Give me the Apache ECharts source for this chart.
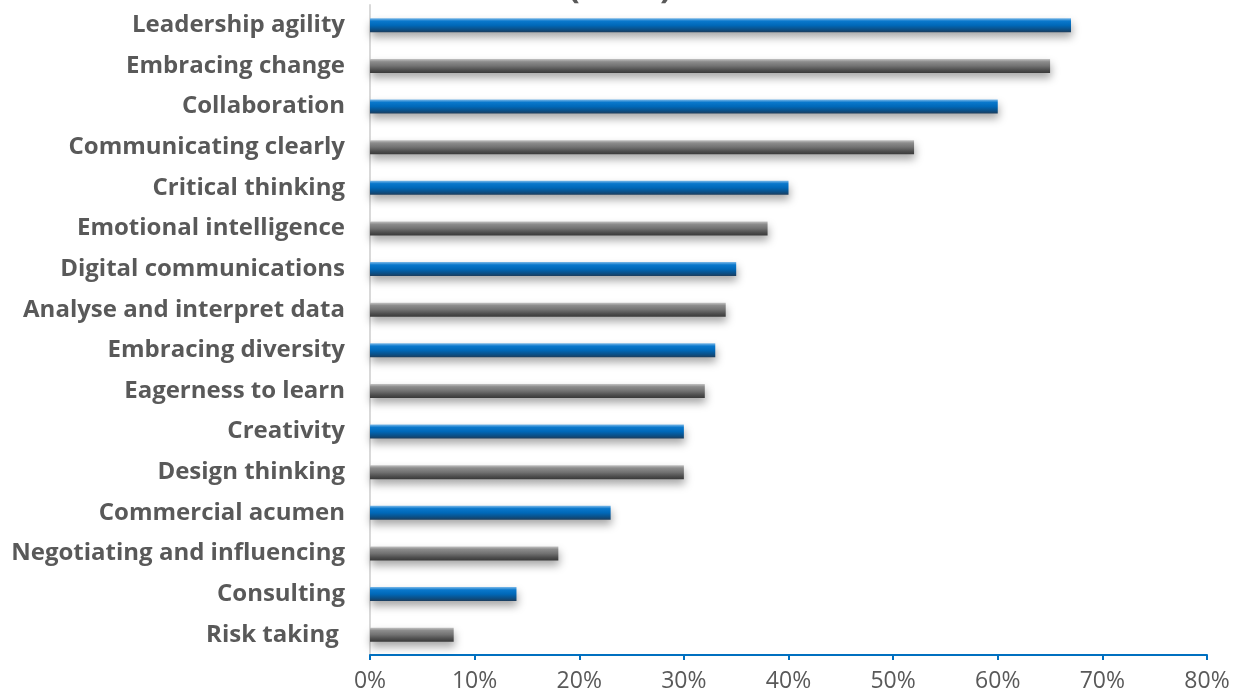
<!DOCTYPE html>
<html>
<head>
<meta charset="utf-8">
<script src="https://cdn.jsdelivr.net/npm/echarts@6/dist/echarts.min.js"></script>
<style>html,body{margin:0;padding:0;background:#fff;}#c{width:1238px;height:700px;}</style>
</head>
<body>
<div id="c"></div>
<script>
var categories = ["Leadership agility","Embracing change","Collaboration","Communicating clearly","Critical thinking","Emotional intelligence","Digital communications","Analyse and interpret data","Embracing diversity","Eagerness to learn","Creativity","Design thinking","Commercial acumen","Negotiating and influencing","Consulting","Risk taking "];
var values = [0.67,0.65,0.60,0.52,0.40,0.38,0.35,0.34,0.33,0.32,0.30,0.30,0.23,0.18,0.14,0.08];
var barColors = ["blue","gray","blue","gray","blue","gray","blue","gray","blue","gray","blue","gray","blue","gray","blue","gray"];
var titleText = "(2020)";

var FONT = "'Open Sans', sans-serif";
var palettes = {
  blue: ["#7ab8e8","#0a78cc","#0068b8","#0b4f86","#1d3d5c"],
  gray: ["#c4c4c4","#8c8c8c","#727272","#4d4d4d","#3a3a3a"]
};
function grad(p){
  return new echarts.graphic.LinearGradient(0,0,0,1,[
    {offset:0,color:p[0]},{offset:0.2,color:p[1]},{offset:0.5,color:p[2]},{offset:0.8,color:p[3]},{offset:1,color:p[4]}
  ]);
}
var data = values.map(function(v,i){
  return {value:v,itemStyle:{color:grad(palettes[barColors[i]])}};
});

var chart = echarts.init(document.getElementById('c'));
chart.setOption({
  backgroundColor:'#fff',
  animation:false,
  graphic:[{type:'text',x:620,y:6,style:{text:titleText,align:'center',verticalAlign:'bottom',fill:'#595959',fontSize:35,fontWeight:'bold',fontFamily:FONT}}],
  grid:{left:370,right:31,top:5,bottom:45,containLabel:false},
  xAxis:{type:'value',min:0,max:0.8,interval:0.1,
    axisLine:{show:true,lineStyle:{color:'#0070c0',width:2}},
    axisTick:{show:true,length:5,lineStyle:{color:'#0070c0',width:2}},
    splitLine:{show:false},
    axisLabel:{margin:15,color:'#595959',fontSize:23,fontFamily:FONT,formatter:function(v){return Math.round(v*100)+'%';}}
  },
  yAxis:{type:'category',data:categories,inverse:true,
    axisLine:{show:true,lineStyle:{color:'#d9d9d9',width:2}},
    axisTick:{show:false},
    axisLabel:{margin:25,color:'#595959',fontSize:24,fontWeight:'bold',fontFamily:FONT}
  },
  series:[{type:'bar',data:data,barWidth:14,
    itemStyle:{shadowBlur:8,shadowOffsetY:5,shadowOffsetX:1,shadowColor:'rgba(0,0,0,0.35)'}
  }]
});
</script>
</body>
</html>
